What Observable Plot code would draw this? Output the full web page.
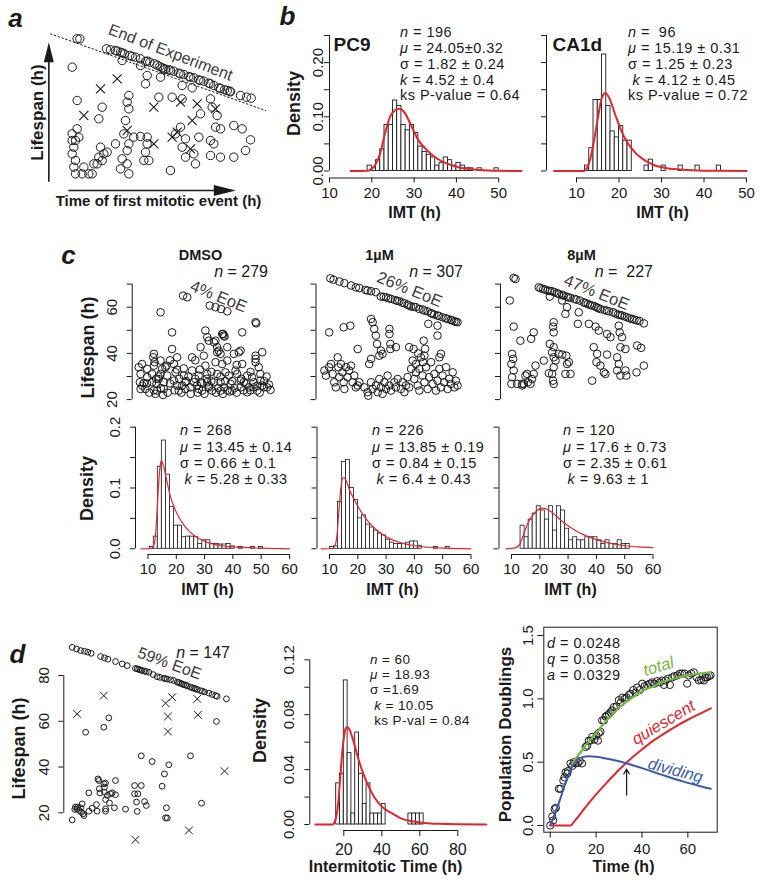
<!DOCTYPE html>
<html>
<head>
<meta charset="utf-8">
<script src="https://cdn.jsdelivr.net/npm/d3@7"></script>
<script src="https://cdn.jsdelivr.net/npm/@observablehq/plot@0.6"></script>
<style>
html,body{margin:0;padding:0;background:#fff;}
#fig{position:relative;width:764px;height:883px;overflow:hidden;font-family:"Liberation Sans",Arial,Helvetica,sans-serif;color:#1a1a1a;}
#fig svg{position:absolute;left:0;top:0;}
.t{position:absolute;white-space:pre;overflow:visible;}
.t i{display:inline-block;}
</style>
</head>
<body>
<div id="fig"></div>
<script>
// ================= DATA =================
// Panel a (schematic, arbitrary units: time, lifespan)
const aEoE = [[230,485],[238,485],[318,455],[330,452],[345,450],[350,448],[360,445],[365,443],[372,440],[388,435],[395,432],[405,430],[420,425],[435,417],[440,418],[448,415],[462,410],[470,406],[478,402],[485,398],[490,395],[495,394],[505,392],[510,390],[520,388],[535,382],[540,380],[550,378],[565,372],[570,370],[580,368],[595,362],[600,360],[610,358],[625,352],[630,350],[640,345],[655,338],[660,336],[672,332],[680,330],[688,328],[690,326],[720,315],[738,310],[752,307],
  [365,420],[420,405],[440,375],[435,350],[480,370],[545,345],[575,338]];
const aOther = [[215,400],[230,300],[305,280],[295,245],[385,315],[380,295],[385,275],[475,310],[515,310],[545,305],[630,305],[635,280],[600,260],[650,255],[645,220],[660,215],[700,225],[725,215],[750,182],[735,150],[700,130],[660,130],[630,135],[630,180],[640,170],[595,190],[580,140],[585,110],[555,185],[545,160],[540,220],[525,200],[510,90],[555,130],[445,120],[430,120],[435,145],[440,170],[420,192],[440,190],[400,190],[385,170],[380,150],[370,200],[375,240],[365,125],[380,110],[385,80],[360,95],[345,170],[320,145],[300,160],[295,130],[290,110],[280,110],[275,80],[305,120],[310,140],[265,80],[245,80],[250,100],[225,80],[220,100],[225,120],[215,140],[220,160],[215,180],[215,200],[230,215],[225,180],[235,190]];
const aCross = [[350,365],[300,335],[250,255],[460,280],[540,295],[590,290],[575,240],[645,275],[515,190],[530,205],[460,170],[380,210],[570,155]];
const aEoELine = [[150,500],[795,270]];
const aArrowUp = {x:145, from:55, to:475};
const aArrowRight = {y:30, from:205, to:706};

// Panel b histograms (density per 1-h bin) and fitted curves
const pc9Start = 19, pc9Width = 1;
const pc9Dens = [0.010,0.005,0.020,0.040,0.085,0.085,0.130,0.120,0.085,0.075,0.085,0.070,0.045,0.035,0.030,0.025,0.010,0.015,0.025,0.020,0.010,0.015,0.010,0.005,0.005,0,0.005,0,0,0,0.005];
const pc9Fit = [[15,0],[19,0.0005],[19.6,0.002],[20.8,0.011],[22,0.033],[23.1,0.069],[24.3,0.1],[25.5,0.112],[26.5,0.115],[27.9,0.106],[29.4,0.082],[31,0.057],[33,0.039],[35.4,0.023],[37.7,0.014],[40.9,0.006],[45.6,0.002],[50,0.0005],[55.4,0]];
const ca1Start = 12, ca1Width = 1;
const ca1Dens = [0.010,0.042,0.131,0.131,0.215,0.120,0.073,0.062,0.083,0.056,0.056,0,0,0,0.010,0.021,0,0,0.010,0,0,0,0.010,0,0,0,0.010,0,0,0,0,0.010];
const ca1Fit = [[4.7,0],[11.7,0],[12.5,0.006],[13.3,0.024],[14.1,0.055],[14.9,0.092],[16,0.136],[16.8,0.144],[17.8,0.133],[19.2,0.102],[20.4,0.077],[22,0.052],[23.9,0.033],[25.8,0.021],[28.2,0.011],[31.3,0.005],[36,0.002],[42,0.0005],[50,0]];
const pc9Stats = ["<i>n</i> = 196","<i>μ</i> = 24.05±0.32","σ = 1.82 ± 0.24","<i>k</i> = 4.52 ± 0.4","ks P-value = 0.64"];
const ca1Stats = ["<i>n</i> =  96","<i>μ</i> = 15.19 ± 0.31","σ = 1.25 ± 0.23"," <i>k</i> = 4.12 ± 0.45","ks P-value = 0.72"];

// Panel c scatter: [time of first mitosis (h), lifespan (h)]
const dmsoLife = [[1.4,34.0],[2.2,31.1],[1.9,27.5],[2.2,24.6],[3.6,27.1],[2.9,35.4],[5.1,33.3],[5.1,29.7],[4.3,24.6],[7.2,27.5],[7.2,31.1],[8.0,34.7],[7.7,38.3],[8.0,39.8],[8.3,36.2],[9.1,26.8],[8.7,22.5],[9.4,23.9],[10.1,28.9],[10.9,31.1],[10.9,36.9],[11.6,33.3],[12.3,27.5],[12.3,24.6],[13.0,34.0],[10.9,57.8],[13.8,30.4],[13.5,34.7],[15.9,49.1],[15.9,41.9],[16.7,35.4],[17.4,31.8],[16.7,28.2],[18.1,26.1],[18.1,38.3],[18.8,23.9],[20.3,26.1],[21.0,30.4],[21.7,27.5],[21.7,24.6],[24.6,38.3],[24.6,32.6],[25.4,27.5],[23.9,25.3],[26.8,26.1],[27.5,30.4],[28.3,27.5],[27.5,24.6],[29.0,23.9],[28.3,42.7],[29.7,39.0],[30.4,49.9],[31.2,47.0],[31.9,45.5],[30.4,34.7],[31.2,31.1],[31.2,27.5],[31.9,25.3],[33.3,23.9],[34.1,44.8],[34.8,45.5],[35.5,42.7],[35.5,40.5],[36.2,41.2],[37.0,39.8],[34.8,36.2],[35.5,31.1],[37.0,27.5],[37.0,23.9],[34.1,27.5],[37.7,48.4],[38.4,47.7],[39.9,42.7],[39.9,36.9],[37.7,35.4],[39.1,31.8],[40.6,30.4],[41.3,26.8],[42.0,23.9],[38.4,25.3],[42.8,39.8],[43.5,32.6],[44.2,31.1],[44.9,40.5],[45.7,41.2],[46.4,49.1],[46.4,35.4],[45.7,28.2],[45.7,25.3],[47.1,27.5],[48.6,30.4],[49.3,25.3],[48.6,23.2],[50.7,29.7],[51.4,27.5],[51.4,25.3],[52.2,37.6],[52.2,39.0],[52.2,36.2],[53.6,34.0],[54.3,31.1],[54.3,28.2],[55.1,26.1],[55.8,25.3],[57.2,25.3],[58.7,24.2],[52.9,23.9],[55.1,40.5],[52.2,53.5],[52.5,53.0],[20.7,65.0],[22.5,64.3],[32.3,60.7],[34.8,60.0],[37.2,59.2],[39.9,58.2],[38.1,48.4],[38.7,47.3],
  [3,26],[6,23],[9,29],[11,25],[14,23],[15,27],[17,24],[19,29],[20,23],[22,28],[23,30],[24,22.5],[26,29],[27,23],[29,27],[30,22.5],[31,29],[32,26],[33,28],[35,23],[36,25],[37,30],[38,22.5],[39,28],[41,23.5],[42,28],[43,25],[44,23],[46,29],[47,24],[48,27],[50,24],[50,32],[53,26],[54,23],[56,28],[57,30],[58,26.5],[10,30],[12,22],[8,24],[5,27],[15,37],[21,33.5],[26,37],[33,32],[44,35],[40,24],[28,33],[18,33]];
const um1Life = [[4.8,72.5],[6.2,71.9],[8.7,71.1],[10.9,70.4],[13.8,69.4],[15.9,68.6],[17.4,68.3],[21.0,67.2],[22.5,66.9],[24.6,66.5],[26.8,64.6],[29.0,64.3],[31.2,63.6],[32.9,63.1],[34.8,62.6],[37.0,61.7],[38.4,61.1],[39.9,60.3],[42.0,60.0],[43.5,59.2],[45.7,58.5],[47.1,58.2],[48.6,57.4],[50.0,56.8],[51.4,56.4],[53.6,55.6],[55.8,54.9],[57.2,54.5],[58.7,53.9],[60.1,53.5],[20,67.5],[28,64.5],[36,62],[41,60.2],[45,59],[49,57.2],[52,56.2],[55,55.2],[57.8,54.3],[59.4,53.7],[30,63.9],[33.8,62.8],[38.9,60.8],
  [4.3,49.1],[10.6,51.3],[13.5,52.0],[16.7,41.9],[22.5,54.9],[23.2,53.5],[23.9,50.6],[24.6,47.7],[25.1,44.1],[26.1,39.0],[26.8,41.2],[27.5,39.8],[22.5,37.6],[21.7,35.4],[30.5,50.6],[30.5,48.4],[30.9,44.1],[30.9,41.9],[33.3,42.7],[39.1,42.7],[41.0,41.9],[45.4,45.5],[47.4,52.8],[51.4,52.0],[51.4,47.7],[52.9,39.8],[52.2,38.3],[45.7,39.0],[45.1,36.2],[42.0,35.4],[43.5,33.3],
  [2.2,32.6],[2.9,30.4],[4.3,34.0],[5.1,35.4],[5.8,31.1],[6.5,27.5],[7.2,25.3],[8.0,38.3],[8.3,34.0],[8.7,29.7],[9.4,35.4],[10.1,31.8],[10.6,27.5],[10.9,24.6],[11.6,34.0],[12.3,29.7],[13.0,32.6],[13.8,34.7],[14.5,27.5],[15.2,30.4],[15.9,25.3],[16.7,26.1],[17.4,27.5],
  [19.6,25.3],[21.0,23.2],[21.3,21.7],[22.5,27.5],[23.2,24.6],[24.6,26.1],[25.4,23.2],[26.1,28.9],[26.8,25.3],[27.5,22.5],[28.3,27.5],[29.0,24.6],[29.7,30.4],[30.4,26.1],[31.2,23.9],[32.6,27.5],[33.3,25.3],[34.1,28.9],[35.5,24.6],[36.2,27.5],[37.0,23.2],[37.7,26.1],[38.4,29.7],[39.1,25.3],
  [39.9,33.3],[40.6,36.9],[41.3,28.9],[42.0,31.8],[42.8,26.1],[43.5,23.9],[44.2,38.3],[44.9,30.4],[45.7,27.5],[46.4,34.0],[47.1,24.6],[47.8,29.7],[48.6,36.2],[49.3,26.8],[50.0,31.1],[50.7,23.9],[51.4,28.2],[52.2,33.3],[52.9,25.3],[53.6,30.4],[54.3,27.5],[55.1,34.0],[55.8,24.6],[56.5,29.0],[57.2,26.8],[58.0,31.8],[58.7,25.3],[59.4,28.2],[60.1,26.1],[43.0,40.0],[46.0,42.0]];
const um8Life = [[4.3,72.7],[5.1,72.2],[2.6,62.9],[4.3,51.6],[7.2,45.5],[3.6,39.8],[4.1,37.6],[3.3,35.4],[4.3,32.6],[3.6,29.7],[3.3,26.8],[5.8,26.8],[8.0,26.8],[9.4,30.4],[10.5,27.5],
  [15.2,68.6],[17.1,67.9],[19.1,67.2],[21.0,66.9],[23.2,66.0],[25.4,65.3],[27.2,64.6],[29.0,64.0],[30.7,63.6],[33.0,62.9],[34.8,62.1],[36.5,61.4],[38.4,60.7],[40.3,60.0],[42.0,59.2],[43.8,58.8],[45.7,58.2],[47.5,57.8],[49.6,56.8],[51.4,56.4],[53.6,55.6],[55.8,54.9],[56.8,54.6],[60.9,53.0],[16,68.2],[18,67.6],[20,67],[22,66.5],[24,65.7],[26,65],[28,64.3],[31.5,63.3],[35.5,61.8],[37.5,61],[39.5,60.4],[41,59.6],[44.8,58.5],[48.5,57.3],[50.5,56.6],[52.5,56],[54.7,55.2],[57.8,54.3],[59,54],
  [20,64.6],[25.4,62.9],[27.5,60.0],[26.8,57.1],[32.6,57.8],
  [21.7,53.5],[21.4,51.6],[21.7,49.1],[13.0,49.1],[11.9,46.3],[20.0,44.1],[21.7,42.7],[21.0,40.5],[21.7,38.3],[22.5,36.9],[23.9,39.8],[25.4,39.5],[27.2,39.0],[27.5,35.4],[26.8,31.1],[29.0,31.1],[28.3,36.2],[21.7,34.0],[21.0,31.1],[19.6,31.4],[21.4,28.2],[21.7,26.8],[17.4,36.9],[13.8,34.7],[13.0,31.1],[12.3,28.9],[11.6,26.8],[10.1,31.1],[8.7,26.8],[8.0,26.1],[32.2,52.8],[37.0,52.8],[39.9,51.6],[41.3,49.9],[44.9,48.4],[46.4,47.0],[50.0,52.0],[50.4,49.1],[51.4,47.0],[50.7,42.7],[52.9,41.9],[58.0,43.4],[59.7,42.4],[60.9,34.7],[57.7,31.8],[39.1,42.7],[40.6,39.8],[40.3,36.2],[42.0,34.7],[44.2,31.1],[44.9,39.5],[43.5,31.8],[49.3,38.3],[50.0,35.4],[49.3,32.6],[50.7,30.4],[52.9,32.6],[53.3,30.4],[38.4,28.2]];
const cTitles = ["DMSO","1µM","8µM"];
const cN = ["<i>n</i> = 279","<i>n</i> = 307","<i>n</i> =  227"];
const cEoE = ["4% EoE","26% EoE","47% EoE"];

// Panel c histograms (IMT density) and fits
const dmsoStart = 10.6, dmsoWidth = 1.43;
const dmsoDens = [0.003,0.02,0.135,0.178,0.122,0.069,0.038,0.038,0.019,0.02,0.02,0.019,0.008,0.014,0.014,0.008,0.008,0.007,0.007,0.008,0.004,0,0.003,0,0,0.003,0,0.003];
const dmsoFit = [[7.5,0],[11,0.0005],[12,0.005],[12.6,0.02],[13.2,0.06],[13.8,0.11],[14.4,0.14],[14.8,0.145],[15.4,0.138],[16.5,0.115],[18,0.085],[20,0.06],[22.5,0.04],[25,0.027],[28,0.017],[32,0.009],[36,0.005],[40,0.003],[50,0.001],[60,0]];
const um1Start = 10.2, um1Width = 1.41;
const um1Dens = [0.003,0.004,0.077,0.143,0.146,0.1,0.08,0.05,0.055,0.04,0.035,0.03,0.025,0.022,0.015,0.01,0.008,0.008,0.008,0.01,0.012,0.012,0.005,0,0,0,0.003,0,0,0.003];
const um1Fit = [[7,0],[11,0.0005],[12,0.006],[12.7,0.025],[13.3,0.06],[14,0.1],[14.9,0.117],[15.8,0.113],[17,0.098],[18.5,0.083],[20,0.07],[22,0.055],[25,0.038],[28,0.026],[32,0.015],[36,0.009],[40,0.005],[45,0.0025],[50,0.001],[60,0]];
const um8Start = 13.2, um8Width = 1.43;
const um8Dens = [0.038,0.019,0.048,0.058,0.07,0.063,0.048,0.07,0.03,0.07,0.063,0.033,0.014,0.019,0.014,0.014,0.019,0.019,0.019,0.014,0.008,0.014,0.008,0.008,0.014,0.008,0.008];
const um8Fit = [[8,0],[11,0.001],[13,0.008],[14,0.02],[15,0.033],[16,0.044],[18,0.058],[20,0.066],[21,0.067],[22,0.066],[24,0.061],[26,0.053],[28,0.045],[30,0.038],[33,0.029],[36,0.022],[40,0.015],[45,0.009],[50,0.005],[55,0.003],[60,0.002]];
const dmsoStats = ["<i>n</i> = 268","<i>μ</i> = 13.45 ± 0.14","σ = 0.66 ± 0.1"," <i>k</i> = 5.28 ± 0.33"];
const um1Stats = ["<i>n</i> = 226","<i>μ</i> = 13.85 ± 0.19","σ = 0.84 ± 0.15"," <i>k</i> = 6.4 ± 0.43"];
const um8Stats = ["<i>n</i> = 120","<i>μ</i> = 17.6 ± 0.73","σ = 2.35 ± 0.61"," <i>k</i> = 9.63 ± 1"];

// Panel d scatter [time (h), lifespan (h)]
const dCircles = [[2.3,92.3],[4.3,91.6],[6.2,90.9],[8.0,90.6],[9.5,90.2],[11.1,89.7],[15.4,88.3],[17.2,87.7],[18.8,87.1],[22.3,86.1],[25.4,85.1],[27.7,84.3],[32.3,82.9],[33.8,82.4],[35.7,81.9],[37.7,81.4],[39.7,80.4],[41.5,79.5],[44.6,78.8],[46.2,78.4],[47.7,78.1],[49.2,77.8],[50.8,77.1],[52.3,76.6],[53.8,76.0],[55.4,75.5],[56.9,74.9],[58.5,74.4],[60.0,73.9],[61.5,73.4],[63.4,72.8],[65.4,72.3],[66.9,71.7],[68.5,71.2],[69.2,70.9],[73.5,69.8],[31.5,83.1],[33,82.7],[34.5,82.2],[36.5,81.7],[42.8,79.2],[45.4,78.6],[51.5,76.9],[53,76.3],[54.6,75.8],[57.7,74.7],[59.2,74.2],[62.4,73.1],
  [8.5,55.2],[16.9,57.4],[19.2,61.5],[68.9,59.9],[34.2,44.9],[39.2,42.4],[46.9,41.0],[44.9,37.0],[56.9,44.9],[43.8,31.6],[45.8,22.2],[45.4,17.8],[46.2,17.7],[62.0,24.2],[2.3,16.9],[4.6,21.7],[6.2,22.2],[5.4,21.0],[6.9,23.9],[7.4,19.6],[7.7,18.8],[10.0,20.7],[10.0,28.7],[13.5,23.6],[13.8,20.7],[14.2,34.8],[14.6,34.1],[15.1,28.7],[16.9,32.7],[17.2,31.2],[17.2,29.0],[17.7,25.8],[17.7,21.7],[17.7,20.7],[18.5,27.6],[20.0,28.3],[20.8,28.7],[22.3,27.9],[22.3,34.1],[21.8,22.2],[26.9,21.6],[31.1,31.9],[31.1,28.3],[32.0,24.7],[32.3,20.6],[32.6,28.3],[34.2,31.9],[35.7,24.9],[36.5,23.2],[3.5,21.5],[3.8,22.5],[4.8,22.5],[6.6,20.2],[11.5,22],[14.8,30.5],[17.7,33.0],[19.5,24.3]];
const dCrosses = [[4.6,63.2],[16.9,71.2],[45.4,67.9],[48.5,70.5],[46.5,62.1],[46.5,55.5],[60.0,69.8],[60.3,62.8],[72.6,38.2],[56.2,12.3],[31.5,8.2]];

// Panel d histogram (intermitotic time) and fit
const dhStart = 16, dhWidth = 2;
const dhDens = [0.030,0.037,0.105,0.052,0.008,0.067,0.037,0.015,0.030,0.008,0.008,0.008,0.015,0,0,0,0,0,0,0.008,0.008,0.008,0.008];
const dhFit = [[5,0],[14,0],[15.5,0.003],[17,0.015],[18,0.032],[19,0.05],[20,0.063],[21,0.07],[22,0.071],[23,0.069],[25,0.061],[27,0.051],[30,0.038],[33,0.028],[36,0.02],[40,0.013],[45,0.0085],[50,0.0045],[60,0.0015],[70,0.0005],[95,0]];
const dhStats = ["<i>n</i> = 60","<i>μ</i> = 18.93","σ =1.69"," <i>k</i> = 10.05"," ks P-val = 0.84"];

// Panel d right: population doublings over time
const pdObs = [[0,0],[0.9,0.071],[1.3,0.04],[1.9,0.13],[2.5,0.14],[3.8,0.29],[4.5,0.29],[5.7,0.355],[6.2,0.38],[6.7,0.42],[7.4,0.41],[7.7,0.43],[8.8,0.49],[9.6,0.47],[10.3,0.50],[11.0,0.49],[12.1,0.495],[12.9,0.51],[13.9,0.49],[15.4,0.62],[16.1,0.63],[16.8,0.67],[17.6,0.67],[18.3,0.70],[19.3,0.68],[20.2,0.71],[20.8,0.67],[21.2,0.73],[21.9,0.74],[22.6,0.83],[23.4,0.83],[24.1,0.86],[24.8,0.87],[25.6,0.88],[26.3,0.895],[27.0,0.91],[27.7,0.935],[28.9,0.94],[29.9,0.99],[30.7,0.97],[31.4,1.01],[32.4,1.0],[33.3,1.01],[34.3,1.03],[35.0,1.04],[36.2,1.07],[37.2,1.05],[37.9,1.09],[39.1,1.07],[40.1,1.12],[41.1,1.10],[42.3,1.11],[43.4,1.12],[44.4,1.13],[45.5,1.12],[46.6,1.14],[47.8,1.13],[48.8,1.145],[49.6,1.11],[50.3,1.145],[51.3,1.16],[52.2,1.11],[53.2,1.17],[54.2,1.18],[55.4,1.185],[56.5,1.20],[57.5,1.20],[58.6,1.20],[59.7,1.12],[60.4,1.185],[61.5,1.20],[62.6,1.21],[63.8,1.17],[64.8,1.145],[65.8,1.15],[67.0,1.145],[67.7,1.17],[68.4,1.17],[69.2,1.18],[69.9,1.185]];
const pdTotal = [[9.6,0.49],[12,0.55],[15,0.62],[20,0.73],[25,0.84],[30,0.93],[35,1.0],[40,1.06],[45,1.10],[50,1.14],[55,1.165],[60,1.185],[65,1.2],[70,1.21]];
const pdDividing = [[0,0],[2,0.09],[4,0.19],[6,0.3],[8,0.4],[10,0.48],[12,0.52],[14,0.54],[17,0.547],[20,0.543],[25,0.527],[30,0.507],[35,0.482],[40,0.453],[45,0.423],[50,0.393],[55,0.363],[60,0.337],[65,0.312],[70,0.29]];
const pdQuiescent = [[0,0],[9,0],[10,0.02],[12,0.065],[15,0.135],[20,0.245],[25,0.345],[30,0.44],[35,0.525],[40,0.6],[45,0.67],[50,0.73],[55,0.785],[60,0.835],[65,0.88],[70,0.925]];
const pdArrow = [{x:33.3, y1:0.24, y2:0.445}];
const pdStats = ["<i>d</i> = 0.0248","<i>q</i> = 0.0358","<i>a</i> = 0.0329"];

// ================= DRAWING =================
const fig = document.getElementById("fig");
const W = 764, H = 883;
const FONT = '"Liberation Sans", Arial, Helvetica, sans-serif';
const INK = "#1a1a1a", RED = "#e3262d", GREEN = "#74b843", BLUE = "#3b5bab", GREY = "#3c3c3c";

function draw(fr, xd, yd, marks) {
  const svg = Plot.plot({
    width: W, height: H,
    marginLeft: fr.l, marginRight: W - fr.r, marginTop: fr.t, marginBottom: H - fr.b,
    x: {domain: xd, axis: null}, y: {domain: yd, axis: null},
    style: {fontFamily: FONT, fontSize: "15px", background: "transparent", overflow: "visible", color: INK},
    marks: marks.flat(2)
  });
  fig.appendChild(svg);
}
function lab(fr, text, px, py, o = {}) {
  return Plot.text([text], {text: d => d, frameAnchor: "top-left", dx: px - fr.l, dy: py - fr.t,
    textAnchor: "middle", lineAnchor: "middle", fill: INK, ...o});
}
function yAxis(fr, xd, ticks, lo, hi, labels, fmt, px, fs) {
  const m = [Plot.ruleX([xd[0]], {y1: lo, y2: hi, stroke: INK}),
    Plot.axisY(ticks, {tickSize: 5, tickFormat: () => "", label: null, anchor: "left"})];
  if (labels) m.push(Plot.text(labels, {y: d => d, text: fmt, frameAnchor: "left", dx: px - fr.l,
    rotate: -90, textAnchor: "middle", lineAnchor: "middle", fontSize: fs, fill: INK}));
  return m;
}
function xAxis(fr, yd, ticks, lo, hi, py, fs, tick = 5, fmt = d => String(d)) {
  return [Plot.ruleY([yd[0]], {x1: lo, x2: hi, stroke: INK}),
    Plot.axisX(ticks, {tickSize: tick, tickFormat: () => "", label: null, anchor: "bottom"}),
    Plot.text(ticks, {x: d => d, text: fmt, frameAnchor: "bottom", dy: py - fr.b, lineAnchor: "middle", fontSize: fs, fill: INK})];
}
function bins(start, w, dens) {
  return dens.map((h, i) => ({x1: start + i * w, x2: start + (i + 1) * w, h})).filter(d => d.h > 0);
}
function hist(b, sw = 0.9) {
  return Plot.rect(b, {x1: "x1", x2: "x2", y1: 0, y2: "h", fill: "white", stroke: INK, strokeWidth: sw});
}
function fit(pts, color, sw) {
  return Plot.line(pts, {x: d => d[0], y: d => d[1], stroke: color, strokeWidth: sw, curve: "monotone-x"});
}
function circles(pts, r) {
  return Plot.dot(pts, {x: d => d[0], y: d => d[1], r, stroke: INK, fill: "none", strokeWidth: 1});
}
// multi-line annotation: one block per line, spaced so line boxes do not overlap
function note(lines, x, y, o = {}) {
  const lh = o.lh || 16.2;
  lines.forEach((s, k) => {
    const d = document.createElement("div");
    d.className = "t";
    d.innerHTML = s;
    d.style.fontSize = (o.fs || 14.5) + "px";
    d.style.letterSpacing = (o.ls == null ? 0.45 : o.ls) + "px";
    d.style.lineHeight = lh + "px";
    d.style.height = lh + "px";
    d.style.top = (y - lh / 2 + k * lh) + "px";
    if (o.right) d.style.right = (W - x) + "px"; else d.style.left = x + "px";
    d.style.color = o.color || INK;
    fig.appendChild(d);
  });
}
const letter = {fontSize: 26, fontWeight: "bold", fontStyle: "italic"};
const bold = (fs) => ({fontSize: fs, fontWeight: "bold"});
const arrowHead = {draw(ctx, size) {
  const r = Math.sqrt(size / Math.PI);
  ctx.moveTo(0, 0); ctx.lineTo(-0.5 * r, 2 * r); ctx.lineTo(0.5 * r, 2 * r); ctx.closePath();
}};

// ---- Panel a ----
const frA = {l: 50, r: 270, t: 45, b: 200};
draw(frA, [150, 810], [0, 465], [
  Plot.line(aEoELine, {x: d => d[0], y: d => d[1], stroke: INK, strokeWidth: 1, strokeDasharray: "1.6,2.4"}),
  circles(aEoE, 4.2), circles(aOther, 4.2),
  Plot.dot(aCross, {x: d => d[0], y: d => d[1], symbol: "times", r: 4.2, stroke: INK, strokeWidth: 1.1}),
  Plot.ruleX([aArrowUp], {x: d => d.x, y1: d => d.from, y2: d => d.to - 45, stroke: INK, strokeWidth: 1.6}),
  Plot.dot([aArrowUp], {x: d => d.x, y: d => d.to, symbol: arrowHead, r: 10, fill: INK, stroke: "none"}),
  Plot.ruleY([aArrowRight], {y: d => d.y, x1: d => d.from, x2: d => d.to - 45, stroke: INK, strokeWidth: 1.6}),
  Plot.dot([aArrowRight], {x: d => d.to, y: d => d.y, symbol: arrowHead, r: 11, rotate: 90, fill: INK, stroke: "none"}),
  lab(frA, "End of Experiment", 170, 52, {rotate: 21, fontSize: 16, fill: GREY}),
  lab(frA, "Lifespan (h)", 37, 112, {rotate: -90, ...bold(17)}),
  lab(frA, "Time of first mitotic event (h)", 158, 201, bold(15)),
  lab(frA, "a", 15, 18, letter)
]);

// ---- Panel b ----
const yB = [-0.0129, 0.25];
const bTicks = [0, 0.05, 0.1, 0.15, 0.2, 0.25];
const frPC9 = {l: 329, r: 523.6, t: 35, b: 177.5};
draw(frPC9, [10, 56], yB, [
  hist(bins(pc9Start, pc9Width, pc9Dens)),
  fit(pc9Fit, RED, 2),
  yAxis(frPC9, [10, 56], bTicks, 0, 0.25, [0, 0.1, 0.2], d3.format(".2f"), 318, 15),
  xAxis(frPC9, yB, [10, 20, 30, 40, 50], 10, 50, 193, 15),
  lab(frPC9, "PC9", 333, 44, {textAnchor: "start", ...bold(19)}),
  lab(frPC9, "Density", 294, 103, {rotate: -90, ...bold(18)}),
  lab(frPC9, "IMT (h)", 414, 212, bold(16)),
  lab(frPC9, "b", 287, 16, letter)
]);
const frCA = {l: 546, r: 750, t: 35, b: 177.5};
draw(frCA, [2.94, 50.94], yB, [
  hist(bins(ca1Start, ca1Width, ca1Dens)),
  fit(ca1Fit, RED, 2),
  yAxis(frCA, [2.94, 50.94], bTicks, 0, 0.25, null),
  xAxis(frCA, yB, [10, 20, 30, 40, 50], 10, 50, 193, 15),
  lab(frCA, "CA1d", 552, 44, {textAnchor: "start", ...bold(19)}),
  lab(frCA, "IMT (h)", 662, 212, bold(16))
]);
note(pc9Stats, 400, 33, {lh: 15.8});
note(ca1Stats, 628, 33, {lh: 15.8});

// ---- Panel c (top scatter) ----
const cScatter = [dmsoLife, um1Life, um8Life];
const cTitleX = [200, 379, 581];
const cNRight = [268, 463, 653];
const cEoEPos = [[218, 296], [409, 289], [596, 292]];
cScatter.forEach((S, i) => {
  const l = [131.7, 315.5, 500][i];
  const fr = {l, r: l + 148.3, t: 283.6, b: 399.1};
  const xd = [-1.43, 63.05];
  draw(fr, xd, [20, 70], [
    yAxis(fr, xd, [20, 30, 40, 50, 60, 70], 20, 70, i === 0 ? [20, 40, 60] : null, d => String(d), 112, 15),
    circles(S, 3.8),
    lab(fr, cEoE[i], cEoEPos[i][0], cEoEPos[i][1], {rotate: 22, fontSize: 16.5, fill: GREY}),
    lab(fr, cTitles[i], cTitleX[i], 255, bold(14.5)),
    i === 0 ? lab(fr, "Lifespan (h)", 88, 347, {rotate: -90, ...bold(18)}) : [],
    i === 0 ? lab(fr, "c", 68, 255, letter) : []
  ]);
  note([cN[i]], cNRight[i], 272, {fs: 16, lh: 18, ls: 0, right: true});
});

// ---- Panel c (histograms) ----
const cHist = [
  {start: dmsoStart, w: dmsoWidth, dens: dmsoDens, fitPts: dmsoFit, stats: dmsoStats, sx: 180, lx: 207},
  {start: um1Start, w: um1Width, dens: um1Dens, fitPts: um1Fit, stats: um1Stats, sx: 372, lx: 392},
  {start: um8Start, w: um8Width, dens: um8Dens, fitPts: um8Fit, stats: um8Stats, sx: 563, lx: 570}
];
cHist.forEach((c, i) => {
  const l = [135, 316.5, 498.5][i];
  const fr = {l, r: l + 156.8, t: 426.7, b: 554};
  const xd = [5.58, 61], yd = [-0.0094, 0.2];
  draw(fr, xd, yd, [
    hist(bins(c.start, c.w, c.dens), 0.8),
    fit(c.fitPts, RED, 1.2),
    yAxis(fr, xd, [0, 0.05, 0.1, 0.15, 0.2], 0, 0.2, i === 0 ? [0, 0.1, 0.2] : null, d3.format(".1f"), 115, 15),
    xAxis(fr, yd, [10, 20, 30, 40, 50, 60], 10, 60, 568.5, 15),
    lab(fr, "IMT (h)", c.lx, 589, bold(16)),
    i === 0 ? lab(fr, "Density", 87, 488, {rotate: -90, ...bold(18)}) : []
  ]);
  note(c.stats, c.sx, 430.5, {lh: 16.2});
});

// ---- Panel d (scatter) ----
const frDS = {l: 63.3, r: 229.2, t: 675, b: 812.3};
draw(frDS, [-1.57, 75], [20, 80], [
  yAxis(frDS, [-1.57, 75], [20, 40, 60, 80], 20, 80, [20, 40, 60, 80], d => String(d), 43.5, 15),
  circles(dCircles, 2.9),
  Plot.dot(dCrosses, {x: d => d[0], y: d => d[1], symbol: "times", r: 3.6, stroke: INK, strokeWidth: 1}),
  lab(frDS, "59% EoE", 169, 663, {rotate: 20, fontSize: 16, fill: GREY}),
  lab(frDS, "Lifespan (h)", 19, 748, {rotate: -90, ...bold(18)}),
  lab(frDS, "d", 17, 654, letter)
]);
note(["<i>n</i> = 147"], 230, 653, {fs: 16, lh: 18, ls: 0, right: true});

// ---- Panel d (histogram) ----
const frDH = {l: 309.3, r: 490, t: 659.3, b: 830};
const yDH = [-0.00437, 0.12];
draw(frDH, [2.1, 97.2], yDH, [
  hist(bins(dhStart, dhWidth, dhDens)),
  fit(dhFit, RED, 2),
  yAxis(frDH, [2.1, 97.2], [0, 0.02, 0.04, 0.06, 0.08, 0.1, 0.12], 0, 0.12, [0, 0.04, 0.08, 0.12], d3.format(".2f"), 288.5, 15),
  xAxis(frDH, yDH, [20, 40, 60, 80], 20, 80, 849, 16, 6),
  lab(frDH, "Density", 260, 730, {rotate: -90, ...bold(18)}),
  lab(frDH, "Intermitotic Time (h)", 385, 866, bold(16))
]);
note(dhStats, 370, 659.5, {fs: 13.5, lh: 15.2, ls: 0.4});

// ---- Panel d (population doublings) ----
const frPD = {l: 543.3, r: 716.7, t: 626.7, b: 831.7};
const xPD = [-2.8, 72.8], yPD = [-0.053, 1.566];
draw(frPD, xPD, yPD, [
  Plot.frame({stroke: INK}),
  Plot.axisY([0, 0.5, 1, 1.5], {tickSize: 6, tickFormat: () => "", label: null, anchor: "left"}),
  Plot.text([0, 0.5, 1, 1.5], {y: d => d, text: d3.format(".1f"), frameAnchor: "left", dx: 528 - frPD.l, rotate: -90, textAnchor: "middle", lineAnchor: "middle", fontSize: 15, fill: INK}),
  Plot.axisX([0, 20, 40, 60], {tickSize: 6, tickFormat: () => "", label: null, anchor: "bottom"}),
  Plot.text([0, 20, 40, 60], {x: d => d, text: d => String(d), frameAnchor: "bottom", dy: 849 - frPD.b, lineAnchor: "middle", fontSize: 15, fill: INK}),
  circles(pdObs, 3.6),
  fit(pdQuiescent, RED, 2),
  fit(pdDividing, BLUE, 2),
  fit(pdTotal, GREEN, 2.2),
  Plot.arrow(pdArrow, {x1: d => d.x, x2: d => d.x, y1: d => d.y1, y2: d => d.y2, stroke: INK, strokeWidth: 1.2, headLength: 7}),
  lab(frPD, "total", 658, 666, {rotate: -17, fontSize: 16.5, fontStyle: "italic", fill: GREEN}),
  lab(frPD, "quiescent", 663, 722, {rotate: -31, fontSize: 16.5, fontStyle: "italic", fill: RED}),
  lab(frPD, "dividing", 675, 770, {rotate: 15, fontSize: 16.5, fontStyle: "italic", fill: BLUE}),
  lab(frPD, "Population Doublings", 505, 734, {rotate: -90, ...bold(17)}),
  lab(frPD, "Time (h)", 623, 866, bold(16))
]);
note(pdStats, 547, 643, {lh: 16.2});
</script>
</body>
</html>
